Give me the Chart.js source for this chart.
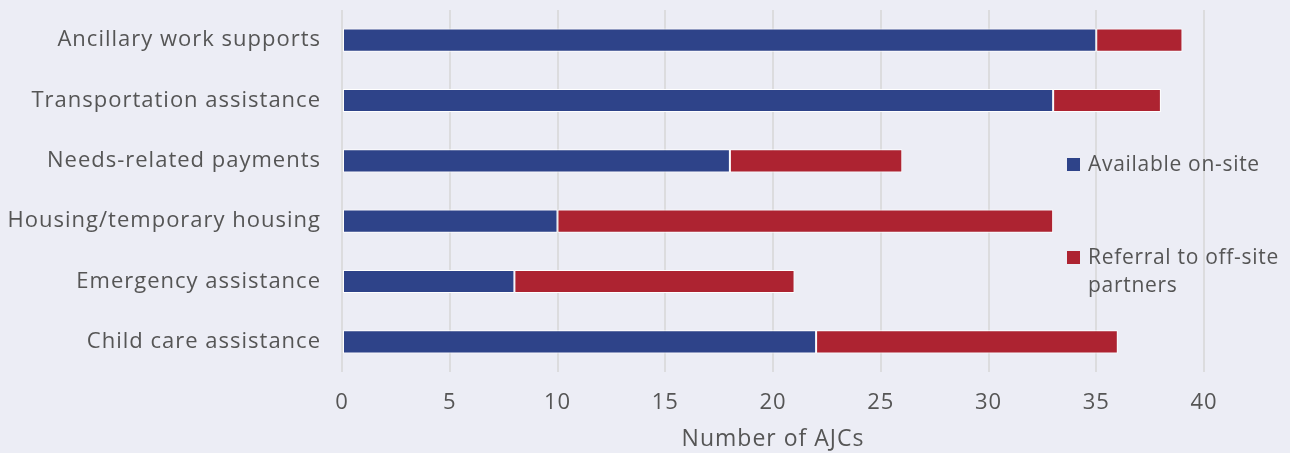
<!DOCTYPE html>
<html>
<head>
<meta charset="utf-8">
<script src="https://cdn.jsdelivr.net/npm/chart.js@4"></script>
<style>
  html, body { margin:0; padding:0; background:#ECEDF5; }
  #wrap { position:relative; width:1290px; height:453px; }
  canvas { display:block; }
  .lg { position:absolute; font-family:"Open Sans", sans-serif; font-size:21px; letter-spacing:0.7px; color:#555; line-height:28px; white-space:nowrap; }
  .sw { position:absolute; width:13px; height:13px; }
</style>
</head>
<body>
<div id="wrap">
  <canvas id="c" width="1290" height="453"></canvas>
  <div id="legend"></div>
</div>
<script>
const categories = ["Ancillary work supports","Transportation assistance","Needs-related payments","Housing/temporary housing","Emergency assistance","Child care assistance"];
const onSite = [35, 33, 18, 10, 8, 22];
const referral = [4, 5, 8, 23, 13, 14];
const seriesNames = ["Available on-site", ["Referral to off-site", "partners"]];
const seriesColors = ["#2E4389", "#AD2331"];
const xTicks = [0,5,10,15,20,25,30,35,40];
const xTitle = "Number of AJCs";

const font = { family: "'Open Sans', sans-serif", size: 22 };
const titleFont = { family: "'Open Sans', sans-serif", size: 23 };
const textColor = "#555555";

const spacingPlugin = {
  id: 'spacing',
  beforeUpdate(chart) { chart.ctx.letterSpacing = '1px'; },
  beforeLayout(chart) { chart.ctx.letterSpacing = '1px'; },
  beforeDraw(chart) { chart.ctx.letterSpacing = '1px'; }
};

new Chart(document.getElementById('c'), {
  type: 'bar',
  plugins: [spacingPlugin],
  data: {
    labels: categories,
    datasets: [
      { label: "Available on-site", data: onSite, backgroundColor: seriesColors[0], borderColor: "#ffffff", borderWidth: 1, borderSkipped: false, categoryPercentage: 1, barPercentage: 0.385 },
      { label: "Referral to off-site partners", data: referral, backgroundColor: seriesColors[1], borderColor: "#ffffff", borderWidth: 1, borderSkipped: false, categoryPercentage: 1, barPercentage: 0.385 }
    ]
  },
  options: {
    indexAxis: 'y',
    responsive: false,
    animation: false,
    layout: { padding: { left: 0, right: 86, top: 10, bottom: 0 } },
    plugins: { legend: { display: false }, tooltip: { enabled: false } },
    scales: {
      x: {
        stacked: true, min: 0, max: 40,
        afterBuildTicks: (s) => { s.ticks = xTicks.map(v => ({ value: v })); },
        afterFit: (s) => { s.height = 81; s.paddingLeft = 0; s.paddingRight = 0; },
        grid: { color: "#DCDCDE", lineWidth: 2, drawTicks: false },
        border: { display: false },
        ticks: { font: font, color: textColor, padding: 18 },
        title: { display: true, text: xTitle, font: titleFont, color: textColor, padding: { top: -3, bottom: 0 } }
      },
      y: {
        stacked: true,
        afterFit: (s) => { s.width = 342; s.paddingTop = 0; s.paddingBottom = 0; },
        grid: { display: false, drawTicks: false },
        border: { display: false },
        ticks: { font: font, color: textColor, padding: 21 }
      }
    }
  }
});

// HTML legend
const lg = document.getElementById('legend');
const legendTops = [149, 242];
seriesNames.forEach((name, i) => {
  const sw = document.createElement('div');
  sw.className = 'sw';
  sw.style.left = '1067px';
  sw.style.top = (legendTops[i] + 9) + 'px';
  sw.style.background = seriesColors[i];
  lg.appendChild(sw);
  const t = document.createElement('div');
  t.className = 'lg';
  t.style.left = '1088px';
  t.style.top = legendTops[i] + 'px';
  t.innerHTML = (Array.isArray(name) ? name : [name]).join('<br>');
  lg.appendChild(t);
});
</script>
</body>
</html>
